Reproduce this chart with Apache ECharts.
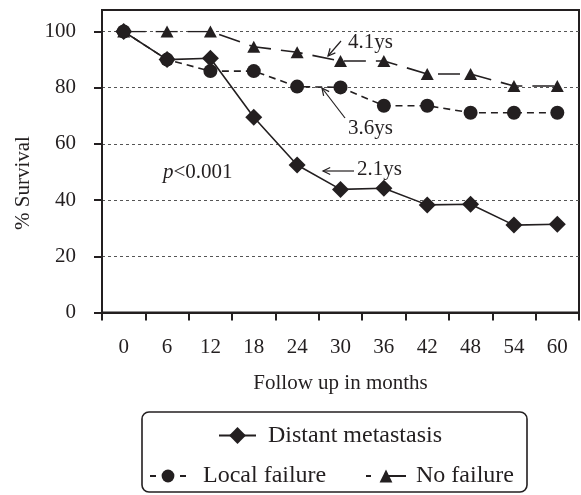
<!DOCTYPE html>
<html>
<head>
<meta charset="utf-8">
<script src="https://cdn.jsdelivr.net/npm/echarts@6/dist/echarts.min.js"></script>
<style>
  html, body { margin: 0; padding: 0; background: #fff; }
  #chart { width: 581px; height: 495px; }
</style>
</head>
<body>
<div id="chart"></div>
<script>
// Follow-up time points (months)
const months = ['0', '6', '12', '18', '24', '30', '36', '42', '48', '54', '60'];

// % survival per group
const distantMetastasis = [100, 90, 90.5, 69.5, 52.5, 43.8, 44.2, 38.3, 38.5, 31.1, 31.4];
const localFailure      = [100, 90, 85.9, 85.9, 80.4, 80.1, 73.6, 73.6, 71.1, 71.1, 71.1];
const noFailure         = [100, 100, 100, 94.6, 92.6, 89.5, 89.5, 84.9, 84.9, 80.6, 80.6];

const yTicks = [0, 20, 40, 60, 80, 100];

const FONT = 'Liberation Serif';
const INK = '#231f20';

const chart = echarts.init(document.getElementById('chart'), null, { renderer: 'canvas' });

// open arrowhead + shaft from tail to head
function arrow(tail, head) {
  const dx = head[0] - tail[0], dy = head[1] - tail[1];
  const len = Math.sqrt(dx * dx + dy * dy);
  const ux = dx / len, uy = dy / len;
  const hl = 8, ang = Math.PI / 7;
  const rot = (a) => [
    head[0] - hl * (ux * Math.cos(a) - uy * Math.sin(a)),
    head[1] - hl * (uy * Math.cos(a) + ux * Math.sin(a))
  ];
  const style = { stroke: INK, lineWidth: 1.2, fill: null };
  return [
    { type: 'line', shape: { x1: tail[0], y1: tail[1], x2: head[0], y2: head[1] }, style },
    { type: 'polyline', shape: { points: [rot(ang), head, rot(-ang)] }, style }
  ];
}

function legendFor(name, left, top, itemWidth, itemHeight, textPad, lineStyle) {
  const cfg = {
    orient: 'horizontal',
    padding: 0,
    selectedMode: false,
    data: [name],
    left, top, itemWidth, itemHeight,
    textStyle: { fontFamily: FONT, fontSize: 24, color: INK, padding: [0, 0, 0, textPad] }
  };
  if (lineStyle) cfg.lineStyle = lineStyle;
  return cfg;
}

const option = {
  animation: false,
  backgroundColor: '#fff',
  grid: [
    { left: 102, right: 2, top: 31.5, bottom: 182.5, containLabel: false },
    { left: 102, right: 2, top: 10, bottom: 182.5, show: true, borderColor: INK, borderWidth: 2, backgroundColor: 'transparent' }
  ],
  xAxis: [
    {
      type: 'category',
      gridIndex: 0,
      data: months,
      boundaryGap: true,
      name: 'Follow up in months',
      nameLocation: 'middle',
      nameGap: 60,
      nameTextStyle: { fontFamily: FONT, fontSize: 21, color: INK },
      axisLine: { lineStyle: { color: INK, width: 2 } },
      axisTick: { show: true, inside: false, length: 8, alignWithLabel: false, lineStyle: { color: INK, width: 2 } },
      axisLabel: { fontFamily: FONT, fontSize: 21, color: INK, margin: 24 },
      splitLine: { show: false }
    },
    { type: 'value', gridIndex: 1, show: false, min: 0, max: 1 }
  ],
  yAxis: [
    {
      type: 'value',
      gridIndex: 0,
      min: yTicks[0],
      max: yTicks[yTicks.length - 1],
      interval: 20,
      name: '% Survival',
      nameLocation: 'middle',
      nameGap: 68,
      nameTextStyle: { fontFamily: FONT, fontSize: 21, color: INK, padding: [0, 22, 0, 0] },
      axisLine: { show: true, lineStyle: { color: INK, width: 2 } },
      axisTick: { show: true, inside: false, length: 8, lineStyle: { color: INK, width: 2 } },
      axisLabel: { fontFamily: FONT, fontSize: 21, color: INK, margin: 26 },
      splitLine: { show: true, lineStyle: { color: '#555', width: 1, type: [3, 3] } }
    },
    { type: 'value', gridIndex: 1, show: false, min: 0, max: 1 }
  ],
  legend: [
    legendFor('Distant metastasis', 218, 423.5, 37, 21, 7),
    legendFor('Local failure', 149, 464, 36, 16, 12, { type: [6, 24, 6] }),
    legendFor('No failure', 365, 464, 40, 16, 5, { type: [5, 13, 22] })
  ],
  series: [
    {
      name: 'No failure',
      type: 'line',
      xAxisIndex: 0, yAxisIndex: 0,
      data: noFailure,
      symbol: 'triangle',
      symbolSize: [13, 12],
      itemStyle: { color: INK },
      lineStyle: { color: INK, width: 1.6, type: [22, 10] },
      z: 2
    },
    {
      name: 'Local failure',
      type: 'line',
      xAxisIndex: 0, yAxisIndex: 0,
      data: localFailure,
      symbol: 'circle',
      symbolSize: 14,
      itemStyle: { color: INK },
      lineStyle: { color: INK, width: 1.6, type: [7, 5] },
      z: 3
    },
    {
      name: 'Distant metastasis',
      type: 'line',
      xAxisIndex: 0, yAxisIndex: 0,
      data: distantMetastasis,
      symbol: 'diamond',
      symbolSize: 17,
      itemStyle: { color: INK },
      lineStyle: { color: INK, width: 1.6, type: 'solid' },
      z: 4
    }
  ],
  graphic: [
    // legend frame
    { type: 'rect', shape: { x: 142, y: 412, width: 385, height: 80, r: 7 }, style: { stroke: INK, lineWidth: 1.6, fill: null } },
    // median survival annotations
    { type: 'text', left: 348, top: 32, style: { text: '4.1ys', font: '21px "Liberation Serif"', fill: INK } },
    ...arrow([341, 41], [328, 56]),
    { type: 'text', left: 348, top: 118, style: { text: '3.6ys', font: '21px "Liberation Serif"', fill: INK } },
    ...arrow([345, 118], [322, 88]),
    { type: 'text', left: 357, top: 159, style: { text: '2.1ys', font: '21px "Liberation Serif"', fill: INK } },
    ...arrow([354, 171], [323, 171]),
    {
      type: 'text', left: 163, top: 162,
      style: {
        text: '{i|p}<0.001',
        font: '21px "Liberation Serif"',
        fill: INK,
        rich: { i: { fontStyle: 'italic', fontFamily: FONT, fontSize: 21, fill: INK } }
      }
    }
  ]
};

chart.setOption(option);
</script>
</body>
</html>
